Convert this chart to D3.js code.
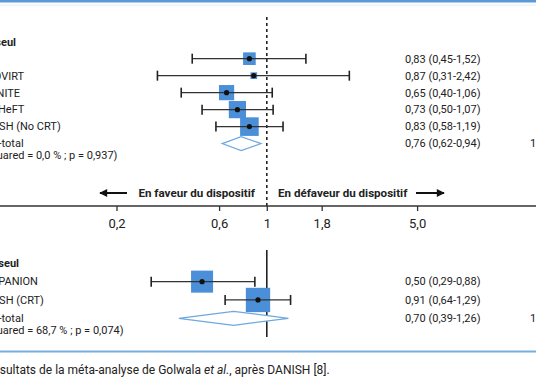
<!DOCTYPE html>
<html>
<head>
<meta charset="utf-8">
<script src="https://cdn.jsdelivr.net/npm/d3@7"></script>
<style>
  body { margin: 0; background: #fff; }
  text { font-family: Roboto, "Noto Sans", sans-serif; fill: #222; }
</style>
</head>
<body>
<div class="canvas"></div>
<script>
// data
const groupTitles = ['DAI seul', 'CRT-D vs CRT seul']

const studiesTop = ['CAT', 'AMIOVIRT', 'DEFINITE', 'SCD-HeFT', 'DANISH (No CRT)']
const hrTop = [0.83, 0.87, 0.65, 0.73, 0.83]
const lowTop = [0.45, 0.31, 0.40, 0.50, 0.58]
const highTop = [1.52, 2.42, 1.06, 1.07, 1.19]
const weightTop = [14.8, 4.1, 21.5, 27.5, 32.1]

const studiesBottom = ['COMPANION', 'DANISH (CRT)']
const hrBottom = [0.50, 0.91]
const lowBottom = [0.29, 0.64]
const highBottom = [0.88, 1.29]
const weightBottom = [45.0, 55.0]

const subtotalHr = [0.76, 0.70]
const subtotalLow = [0.62, 0.39]
const subtotalHigh = [0.94, 1.26]
const heterogeneity = ['(I-squared = 0,0 % ; p = 0,937)', '(I-squared = 68,7 % ; p = 0,074)']

const tickValues = [0.2, 0.6, 1, 1.8, 5]
const tickLabels = ['0,2', '0,6', '1', '1,8', '5,0']

const dims = { width: 536, height: 386 }
const blue = '#4a8fd8'

const svg = d3.select('.canvas')
    .append('svg')
    .attr('width', dims.width)
    .attr('height', dims.height)

// log scale for hazard ratios
const x = d3.scaleLog()
    .domain([0.2, 1])
    .range([116.5, 266.8])

const size = d3.scaleSqrt()
    .domain([0, 100])
    .range([0, 32.8])

const fmt = v => v.toFixed(2).replace('.', ',')

// frame lines
svg.append('rect').attr('x', 0).attr('y', 0).attr('width', dims.width).attr('height', 2.5).attr('fill', '#5b9bd5')
svg.append('line').attr('x1', 0).attr('x2', dims.width).attr('y1', 5).attr('y2', 5).attr('stroke', '#e4eef8')
svg.append('rect').attr('x', 0).attr('y', 350.5).attr('width', dims.width).attr('height', 2).attr('fill', '#7aaee0')

// caption
const cap = svg.append('text').attr('x', -14).attr('y', 374).style('font-size', '12px')
cap.append('tspan').text('Résultats de la méta-analyse de Golwala ')
cap.append('tspan').style('font-style', 'italic').text('et al.')
cap.append('tspan').text(', après DANISH [8].')

// reference lines
svg.append('line')
    .attr('x1', x(1)).attr('x2', x(1))
    .attr('y1', 17).attr('y2', 206)
    .attr('stroke', '#222').attr('stroke-width', 1.6)
    .attr('stroke-dasharray', '3,3')

svg.append('line')
    .attr('x1', x(1)).attr('x2', x(1))
    .attr('y1', 250).attr('y2', 337)
    .attr('stroke', '#222').attr('stroke-width', 1.6)

// axis
svg.append('line')
    .attr('x1', 0).attr('x2', dims.width)
    .attr('y1', 206).attr('y2', 206)
    .attr('stroke', '#333').attr('stroke-width', 1.3)

const axis = d3.axisBottom(x)
    .tickValues(tickValues)
    .tickFormat((d, i) => tickLabels[i])
    .tickSize(5)
    .tickPadding(8)

const axisG = svg.append('g')
    .attr('transform', 'translate(0, 206)')
    .call(axis)
axisG.select('.domain').remove()
axisG.selectAll('line').attr('stroke', '#333').attr('stroke-width', 1.3)
axisG.selectAll('text').style('font-size', '13px').style('font-family', 'Roboto, sans-serif').attr('fill', '#222')

// direction arrows
svg.append('defs').append('marker')
    .attr('id', 'head')
    .attr('viewBox', '0 0 10 10')
    .attr('refX', 9).attr('refY', 5)
    .attr('markerWidth', 4.5).attr('markerHeight', 4)
    .attr('orient', 'auto')
    .append('path').attr('d', 'M0,0 L10,5 L0,10 z').attr('fill', '#111')

svg.append('line').attr('x1', 127).attr('x2', 100).attr('y1', 193).attr('y2', 193)
    .attr('stroke', '#111').attr('stroke-width', 2).attr('marker-end', 'url(#head)')
svg.append('line').attr('x1', 416).attr('x2', 444).attr('y1', 193).attr('y2', 193)
    .attr('stroke', '#111').attr('stroke-width', 2).attr('marker-end', 'url(#head)')

svg.append('text').attr('x', 255).attr('y', 197).attr('text-anchor', 'end')
    .style('font-size', '11.6px').style('font-weight', 'bold').text('En faveur du dispositif')
svg.append('text').attr('x', 278).attr('y', 197)
    .style('font-size', '11.6px').style('font-weight', 'bold').text('En défaveur du dispositif')

// draw one subgroup panel
const drawPanel = (g, yScale, titleEnd, title, studies, hr, low, high, weight, k) => {

    const rows = studies.map((name, i) => ({ name, hr: hr[i], low: low[i], high: high[i], w: weight[i], row: i + 1 }))

    g.append('text')
        .attr('x', titleEnd).attr('y', yScale(0)).attr('dy', '0.35em')
        .attr('text-anchor', 'end')
        .style('font-size', '11px').style('font-weight', 'bold')
        .text(title)

    // labels
    g.selectAll('text.label')
        .data(rows)
        .enter().append('text')
            .attr('class', 'label')
            .attr('x', -26).attr('y', d => yScale(d.row)).attr('dy', '0.35em')
            .style('font-size', '11px')
            .text(d => d.name)

    // weight boxes
    g.selectAll('rect.box')
        .data(rows)
        .enter().append('rect')
            .attr('class', 'box')
            .attr('x', d => x(d.hr) - size(d.w) / 2)
            .attr('y', d => yScale(d.row) - size(d.w) / 2)
            .attr('width', d => size(d.w))
            .attr('height', d => size(d.w))
            .attr('fill', blue)

    // confidence intervals
    g.selectAll('line.ci')
        .data(rows)
        .enter().append('line')
            .attr('class', 'ci')
            .attr('x1', d => x(d.low)).attr('x2', d => x(d.high))
            .attr('y1', d => yScale(d.row)).attr('y2', d => yScale(d.row))
            .attr('stroke', '#333').attr('stroke-width', 1.3)

    const caps = rows.flatMap(d => [{ v: d.low, row: d.row }, { v: d.high, row: d.row }])
    g.selectAll('line.cap')
        .data(caps)
        .enter().append('line')
            .attr('class', 'cap')
            .attr('x1', d => x(d.v)).attr('x2', d => x(d.v))
            .attr('y1', d => yScale(d.row) - 5).attr('y2', d => yScale(d.row) + 5)
            .attr('stroke', '#222').attr('stroke-width', 1.6)

    g.selectAll('circle.pt')
        .data(rows)
        .enter().append('circle')
            .attr('class', 'pt')
            .attr('cx', d => x(d.hr)).attr('cy', d => yScale(d.row))
            .attr('r', 2.6)
            .attr('fill', '#111')

    g.selectAll('text.val')
        .data(rows)
        .enter().append('text')
            .attr('class', 'val')
            .attr('x', 405).attr('y', d => yScale(d.row)).attr('dy', '0.35em')
            .style('font-size', '11px')
            .text(d => `${fmt(d.hr)} (${fmt(d.low)}-${fmt(d.high)})`)

    // subtotal
    const sr = rows.length + 1
    const ys = yScale(sr)
    const line = d3.line()
    g.append('path')
        .attr('d', line([
            [x(subtotalLow[k]), ys], [x(subtotalHr[k]), ys - 7],
            [x(subtotalHigh[k]), ys], [x(subtotalHr[k]), ys + 7]
        ]) + 'Z')
        .attr('fill', '#fff')
        .attr('stroke', '#6fa8e0')
        .attr('stroke-width', 1.2)

    g.append('text').attr('x', -26).attr('y', ys).attr('dy', '0.35em')
        .style('font-size', '11px').text('Sous-total')
    g.append('text').attr('x', -25).attr('y', ys + 11.8).attr('dy', '0.35em')
        .style('font-size', '11px').text(heterogeneity[k])
    g.append('text').attr('x', 405).attr('y', ys).attr('dy', '0.35em')
        .style('font-size', '11px')
        .text(`${fmt(subtotalHr[k])} (${fmt(subtotalLow[k])}-${fmt(subtotalHigh[k])})`)
    g.append('text').attr('x', 530).attr('y', ys).attr('dy', '0.35em')
        .style('font-size', '11px').text('100,00')
}

const yTop = d3.scaleLinear().domain([0, 6]).range([41.7, 143.6])
const yBottom = d3.scaleLinear().domain([0, 3]).range([263.3, 318.3])

drawPanel(svg.append('g'), yTop, 16, groupTitles[0], studiesTop, hrTop, lowTop, highTop, weightTop, 0)
drawPanel(svg.append('g'), yBottom, 19, groupTitles[1], studiesBottom, hrBottom, lowBottom, highBottom, weightBottom, 1)
</script>
</body>
</html>
